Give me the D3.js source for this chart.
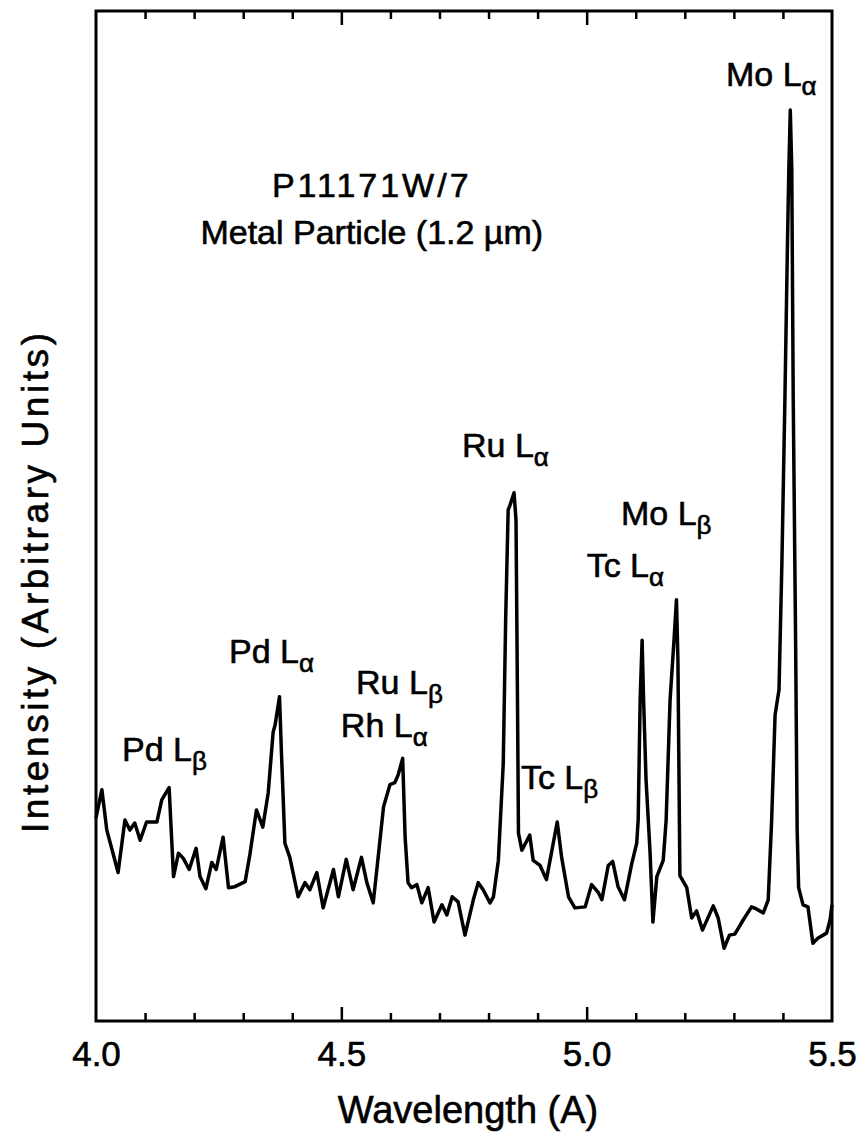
<!DOCTYPE html>
<html>
<head>
<meta charset="utf-8">
<script src="https://cdn.jsdelivr.net/npm/d3@7"></script>
<style>
  body { margin: 0; background: #fff; }
  svg { display: block; }
  text { font-family: "Liberation Sans", Arial, sans-serif; fill: #000; stroke: #000; stroke-width: 0.6px; }
</style>
</head>
<body>
<svg width="860" height="1134"></svg>
<script>
// DATA
var wavelength = [4.000, 4.012, 4.022, 4.033, 4.045, 4.059, 4.069, 4.079, 4.090, 4.103,
		  4.124, 4.134, 4.149, 4.158, 4.168, 4.178, 4.190, 4.204, 4.212, 4.224,
		  4.236, 4.245, 4.259, 4.270, 4.283, 4.304, 4.314, 4.327, 4.340, 4.351,
		  4.361, 4.365, 4.374, 4.378, 4.385, 4.395, 4.412, 4.426, 4.436, 4.450,
		  4.463, 4.484, 4.494, 4.510, 4.524, 4.541, 4.552, 4.565, 4.575, 4.586,
		  4.599, 4.609, 4.616, 4.625, 4.630, 4.636, 4.643, 4.654, 4.664, 4.677,
		  4.689, 4.705, 4.715, 4.726, 4.738, 4.752, 4.769, 4.779, 4.789, 4.803,
		  4.810, 4.820, 4.830, 4.835, 4.840, 4.844, 4.852, 4.856, 4.859, 4.861,
		  4.868, 4.884, 4.891, 4.905, 4.918, 4.940, 4.949, 4.963, 4.976, 4.997,
		  5.010, 5.024, 5.031, 5.044, 5.053, 5.064, 5.077, 5.092, 5.102, 5.105,
		  5.109, 5.113, 5.116, 5.121, 5.129, 5.135, 5.143, 5.156, 5.162, 5.170,
		  5.178, 5.183, 5.186, 5.190, 5.204, 5.214, 5.224, 5.236, 5.258, 5.268,
		  5.280, 5.291, 5.302, 5.319, 5.336, 5.346, 5.360, 5.370, 5.377, 5.384,
		  5.392, 5.398, 5.404, 5.409, 5.412, 5.415, 5.418, 5.421, 5.426, 5.429,
		  5.432, 5.441, 5.451, 5.461, 5.471, 5.482, 5.489, 5.496, 5.500];

var intensity = [20.1, 22.9, 18.9, 16.9, 14.7, 19.9, 18.9, 19.6, 17.9, 19.7,
		 19.7, 21.9, 23.1, 14.3, 16.6, 16.1, 15.0, 17.1, 14.3, 13.1,
		 15.7, 15.0, 18.2, 13.2, 13.3, 13.8, 16.6, 20.9, 19.2, 22.6,
		 28.6, 29.3, 32.1, 26.5, 17.6, 16.2, 12.3, 13.7, 13.0, 14.7,
		 11.2, 15.0, 12.3, 16.0, 13.0, 16.2, 13.7, 11.7, 16.2, 21.2,
		 23.4, 23.6, 24.4, 26.0, 18.2, 13.7, 13.2, 13.5, 11.7, 13.2,
		 9.8, 11.5, 10.5, 12.3, 11.8, 8.5, 12.0, 13.7, 13.0, 11.7,
		 12.3, 15.9, 25.5, 40.0, 50.6, 51.1, 52.3, 49.6, 31.8, 18.6,
		 16.9, 18.4, 15.9, 15.4, 14.0, 19.7, 16.2, 12.3, 11.2, 11.3,
		 13.5, 12.7, 12.0, 15.4, 15.8, 13.3, 12.0, 15.6, 17.6, 19.9,
		 31.8, 37.7, 31.8, 23.9, 16.9, 9.8, 14.3, 15.9, 19.9, 31.8,
		 37.7, 41.7, 35.7, 14.4, 13.2, 10.2, 10.9, 9.0, 11.4, 10.2,
		 7.2, 8.5, 8.6, 10.0, 11.3, 11.1, 10.7, 12.0, 19.9, 30.3,
		 32.8, 45.6, 61.5, 76.3, 84.3, 90.2, 84.3, 61.5, 36.7, 18.9,
		 13.2, 11.5, 11.3, 7.7, 8.2, 8.5, 8.7, 10.0, 11.5];

var majorTicks = [4.0, 4.5, 5.0, 5.5];
var minorTicks = [4.1, 4.2, 4.3, 4.4, 4.6, 4.7, 4.8, 4.9, 5.1, 5.2, 5.3, 5.4];

// peak labels: text, subscript, wavelength and intensity of the baseline start
var labelText = ["Mo L", "Ru L", "Mo L", "Tc L", "Pd L", "Ru L", "Rh L", "Pd L", "Tc L"];
var labelSub = ["\u03b1", "\u03b1", "\u03b2", "\u03b1", "\u03b1", "\u03b2", "\u03b1", "\u03b2", "\u03b2"];
var labelX = [5.284, 4.746, 5.070, 5.000, 4.271, 4.530, 4.499, 4.053, 4.866];
var labelY = [92.6, 55.8, 49.1, 44.0, 35.4, 32.4, 28.1, 25.7, 23.0];

var sampleText = ["P11171W/7", "Metal Particle (1.2 \u00b5m)"];
var sampleY = [81.6, 76.9];

// DEFINE SVG PARAMETERS
var svg = d3.select("svg");
var plotLeft = 96, plotRight = 832, plotTop = 11, plotBottom = 1021;

var x = d3.scaleLinear()
    .domain([4.0, 5.5])
    .range([plotLeft, plotRight]);
var y = d3.scaleLinear()
    .domain([0, 100])
    .range([plotBottom, plotTop]);

var points = wavelength.map(function(w, i) { return [w, intensity[i]]; });

// TICKS (inward, bottom and top)
function tickAxis(axisFn, values, size, yPos) {
    svg.append("g")
	.attr("class", "ticks")
	.attr("transform", "translate(0," + yPos + ")")
	.call(axisFn(x).tickValues(values).tickSize(size).tickFormat(""))
	.call(function(g) { g.select(".domain").remove(); })
	.selectAll("line")
	.attr("stroke", "#000")
	.attr("stroke-width", 2.5);
}
tickAxis(d3.axisBottom, minorTicks, -8, plotBottom);
tickAxis(d3.axisBottom, [4.5, 5.0], -14, plotBottom);
tickAxis(d3.axisTop, minorTicks, -8, plotTop);
tickAxis(d3.axisTop, [4.5, 5.0], -14, plotTop);

// TICK LABELS
svg.append("g")
    .attr("class", "x-labels")
    .attr("transform", "translate(0," + plotBottom + ")")
    .call(d3.axisBottom(x).tickValues(majorTicks).tickSize(0).tickPadding(20)
	  .tickFormat(d3.format(".1f")))
    .call(function(g) { g.select(".domain").remove(); })
    .selectAll("text")
    .attr("font-family", "Liberation Sans, Arial, sans-serif")
    .attr("font-size", 35)
    .attr("dy", "0.71em")
    .attr("fill", "#000");

// FRAME
svg.append("rect")
    .attr("x", plotLeft)
    .attr("y", plotTop)
    .attr("width", plotRight - plotLeft)
    .attr("height", plotBottom - plotTop)
    .attr("fill", "none")
    .attr("stroke", "#000")
    .attr("stroke-width", 3);

// SPECTRUM
var line = d3.line()
    .x(function(d) { return x(d[0]); })
    .y(function(d) { return y(d[1]); });

svg.append("path")
    .datum(points)
    .attr("d", line)
    .attr("fill", "none")
    .attr("stroke", "#000")
    .attr("stroke-width", 3.5)
    .attr("stroke-linejoin", "round");

// AXIS TITLES
svg.append("text")
    .attr("x", 468)
    .attr("y", 1123)
    .attr("text-anchor", "middle")
    .attr("font-size", 38)
    .text("Wavelength (A)");

svg.append("text")
    .attr("transform", "translate(48,583) rotate(-90)")
    .attr("text-anchor", "middle")
    .attr("font-size", 37)
    .attr("textLength", 500)
    .attr("lengthAdjust", "spacing")
    .text("Intensity (Arbitrary Units)");

// SAMPLE TEXT
svg.selectAll(".sample")
    .data(sampleText)
    .enter().append("text")
    .attr("class", "sample")
    .attr("x", x(4.562))
    .attr("y", function(d, i) { return y(sampleY[i]); })
    .attr("text-anchor", "middle")
    .attr("font-size", 34)
    .attr("letter-spacing", function(d, i) { return i === 0 ? 3 : 0; })
    .text(function(d) { return d; });

// PEAK LABELS
var labels = svg.selectAll(".peak")
    .data(labelText)
    .enter().append("text")
    .attr("class", "peak")
    .attr("x", function(d, i) { return x(labelX[i]); })
    .attr("y", function(d, i) { return y(labelY[i]); })
    .attr("font-size", 34);
labels.append("tspan")
    .text(function(d) { return d; });
labels.append("tspan")
    .attr("dy", 9)
    .attr("font-size", 26)
    .text(function(d, i) { return labelSub[i]; });
</script>
</body>
</html>
